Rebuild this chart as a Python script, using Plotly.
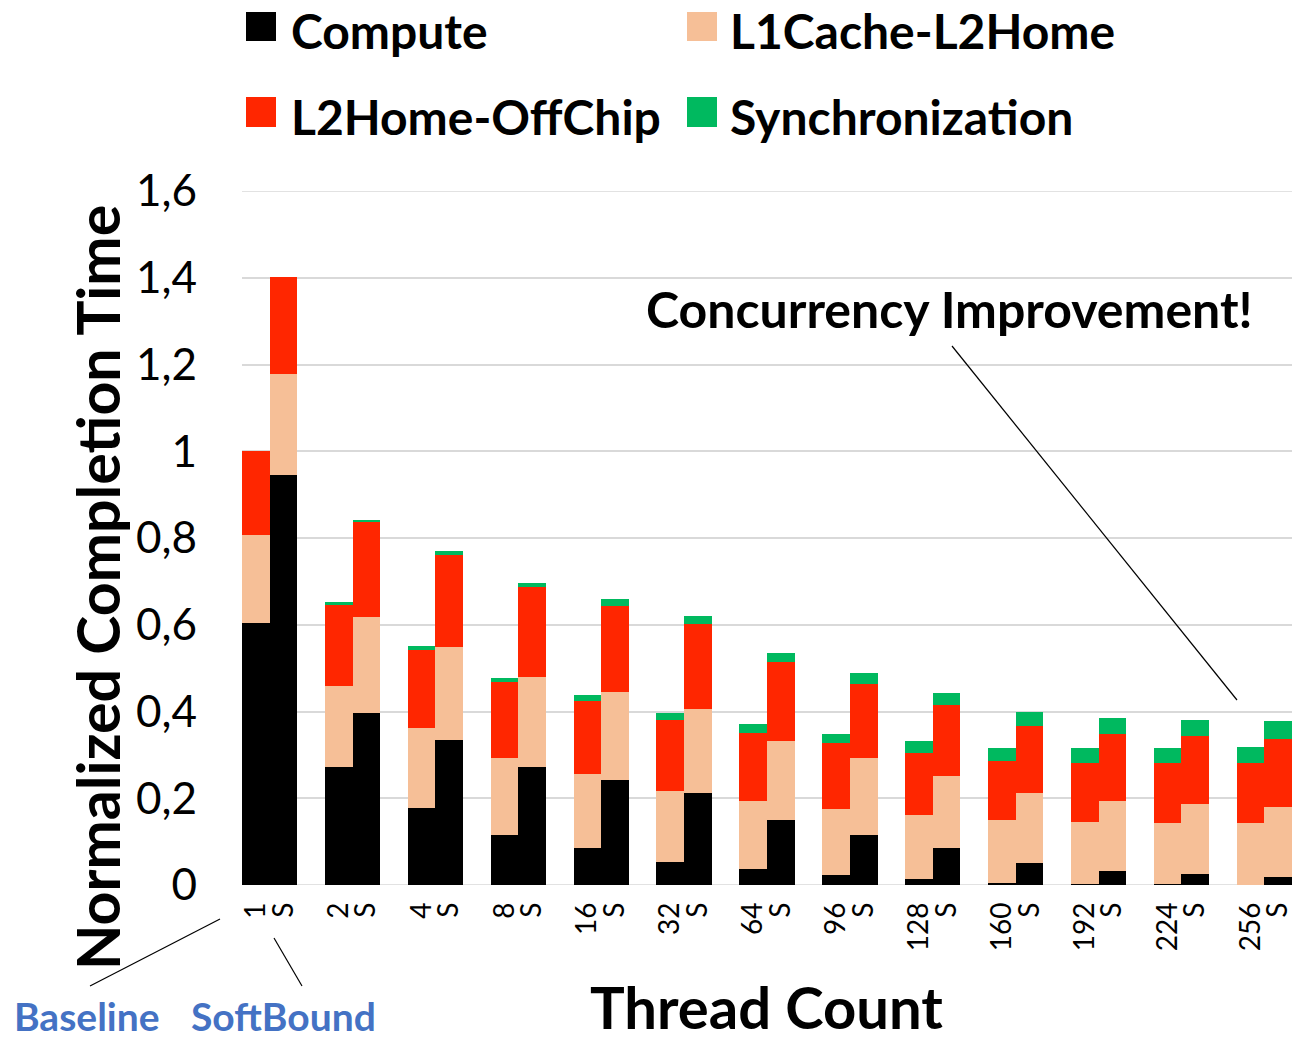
import plotly.graph_objects as go

# ---------------- data ----------------
threads = ["1", "2", "4", "8", "16", "32", "64", "96", "128", "160", "192", "224", "256"]
variant_label = "S"

base_compute = [0.604, 0.271, 0.178, 0.116, 0.086, 0.054, 0.036, 0.023, 0.014, 0.005, 0.003, 0.002, 0.000]
base_l1l2    = [0.204, 0.188, 0.183, 0.176, 0.170, 0.163, 0.158, 0.152, 0.147, 0.144, 0.142, 0.141, 0.143]
base_l2off   = [0.192, 0.187, 0.181, 0.177, 0.169, 0.164, 0.156, 0.152, 0.143, 0.137, 0.137, 0.138, 0.138]
base_sync    = [0.000, 0.006, 0.008, 0.008, 0.012, 0.016, 0.021, 0.022, 0.027, 0.029, 0.033, 0.036, 0.038]

sb_compute = [0.946, 0.397, 0.334, 0.272, 0.241, 0.211, 0.149, 0.116, 0.085, 0.050, 0.033, 0.026, 0.018]
sb_l1l2    = [0.233, 0.220, 0.214, 0.208, 0.203, 0.195, 0.182, 0.177, 0.166, 0.162, 0.161, 0.161, 0.161]
sb_l2off   = [0.223, 0.219, 0.212, 0.206, 0.200, 0.195, 0.182, 0.170, 0.165, 0.155, 0.155, 0.156, 0.157]
sb_sync    = [0.000, 0.005, 0.010, 0.011, 0.015, 0.019, 0.022, 0.025, 0.027, 0.033, 0.035, 0.038, 0.042]

series_names = ["Compute", "L1Cache-L2Home", "L2Home-OffChip", "Synchronization"]
series_colors = ["#000000", "#F6BF97", "#FF2600", "#00B95F"]

y_tick_vals = [0, 0.2, 0.4, 0.6, 0.8, 1.0, 1.2, 1.4, 1.6]
y_tick_text = ["0", "0,2", "0,4", "0,6", "0,8", "1", "1,2", "1,4", "1,6"]

# ---------------- layout helpers ----------------
W, H = 1292, 1042
L, R, T, B = 242, 0, 191, 157
PW, PH = W - L - R, H - T - B

def px(xp):
    return (xp - L) / PW

def py(yp):
    return (H - B - yp) / PH

FONT = "Lato, Carlito, 'Open Sans', sans-serif"

n = len(threads)
base_pos = [3 * i for i in range(n)]
sb_pos = [3 * i + 1 for i in range(n)]
xs = base_pos + sb_pos

base_series = [base_compute, base_l1l2, base_l2off, base_sync]
sb_series = [sb_compute, sb_l1l2, sb_l2off, sb_sync]

fig = go.Figure()
for name, col, bv, sv in zip(series_names, series_colors, base_series, sb_series):
    fig.add_trace(go.Bar(
        x=xs, y=bv + sv, name=name, width=1,
        marker=dict(color=col, line=dict(width=0)),
        showlegend=False,
    ))

tickvals = []
ticktext = []
for i in range(n):
    tickvals += [base_pos[i], sb_pos[i]]
    ticktext += [threads[i], variant_label]

fig.update_layout(
    width=W, height=H,
    margin=dict(l=L, r=R, t=T, b=B, pad=0),
    barmode="stack",
    plot_bgcolor="white", paper_bgcolor="white",
    font=dict(family=FONT, color="#000000"),
    xaxis=dict(
        range=[-0.5, 3 * n - 1.5],
        tickmode="array", tickvals=tickvals, ticktext=ticktext,
        tickangle=-90, tickfont=dict(size=28, family=FONT),
        showgrid=False, zeroline=False, showline=False, ticks="",
        ticklabelstandoff=11, ticklabeloverflow="allow",
    ),
    yaxis=dict(
        range=[0, 1.6],
        tickmode="array", tickvals=y_tick_vals, ticktext=y_tick_text,
        tickfont=dict(size=44, family=FONT),
        showgrid=True, gridcolor="#D9D9D9", gridwidth=1.5,
        zeroline=False, showline=False, ticks="",
        ticklabelstandoff=44, ticklabeloverflow="allow",
    ),
)

# gridlines at the range edges (0 and 1.6)
for yv in (y_tick_vals[0], y_tick_vals[-1]):
    fig.add_shape(type="line", xref="paper", yref="y", x0=0, x1=1, y0=yv, y1=yv,
                  line=dict(color="#D9D9D9", width=1.5), layer="below")

# legend (manual, large squares)
legend_items = [
    (0, 246, 12, 41, 289, 31),
    (1, 687, 12, 41, 728, 31),
    (2, 246, 97, 127, 289, 117),
    (3, 687, 97, 127, 728, 117),
]
for idx, x0, y0, y1, tx, ty in legend_items:
    fig.add_shape(type="rect", xref="paper", yref="paper",
                  x0=px(x0), x1=px(x0 + 30), y0=py(y1), y1=py(y0),
                  fillcolor=series_colors[idx], line=dict(width=0))
    fig.add_annotation(text=series_names[idx], xref="paper", yref="paper",
                       x=px(tx), y=py(ty), xanchor="left", yanchor="middle",
                       showarrow=False, font=dict(size=48, family=FONT, weight="bold"))

# axis titles
fig.add_annotation(text="Normalized Completion Time", xref="paper", yref="paper",
                   x=px(97), y=py(588), textangle=-90, showarrow=False,
                   xanchor="center", yanchor="middle",
                   font=dict(size=59, family=FONT, weight="bold"))
fig.add_annotation(text="Thread Count", xref="paper", yref="paper",
                   x=px(766), y=py(1006), showarrow=False,
                   xanchor="center", yanchor="middle",
                   font=dict(size=58, family=FONT, weight="bold"))

# callout
fig.add_annotation(text="Concurrency Improvement!", xref="paper", yref="paper",
                   x=px(949), y=py(309), showarrow=False,
                   xanchor="center", yanchor="middle",
                   font=dict(size=50, family=FONT, weight="bold"))
fig.add_shape(type="line", xref="paper", yref="paper",
              x0=px(952), y0=py(346), x1=px(1237), y1=py(700),
              line=dict(color="#000000", width=1.2))

# Baseline / SoftBound labels
fig.add_annotation(text="Baseline", xref="paper", yref="paper",
                   x=px(87), y=py(1016), showarrow=False, borderpad=0,
                   xanchor="center", yanchor="middle",
                   font=dict(size=39, family=FONT, weight="bold", color="#4472C4"))
fig.add_annotation(text="SoftBound", xref="paper", yref="paper",
                   x=px(283), y=py(1016), showarrow=False, borderpad=0,
                   xanchor="center", yanchor="middle",
                   font=dict(size=39, family=FONT, weight="bold", color="#4472C4"))
fig.add_shape(type="line", xref="paper", yref="paper",
              x0=px(90), y0=py(986), x1=px(220), y1=py(919),
              line=dict(color="#000000", width=1.2))
fig.add_shape(type="line", xref="paper", yref="paper",
              x0=px(274), y0=py(938), x1=px(302), y1=py(986),
              line=dict(color="#000000", width=1.2))

fig.write_html("out.html", config={"displayModeBar": False},
               post_script="document.body.style.margin='0';document.body.style.overflow='hidden';")
